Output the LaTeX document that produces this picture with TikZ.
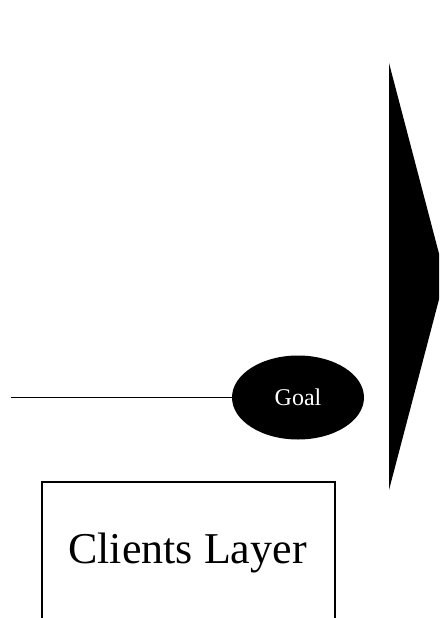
\documentclass[tikz,border=0pt]{standalone}
\usepackage{fontspec}
\setmainfont{Liberation Serif}
\usetikzlibrary{shapes.geometric}

\begin{document}
\begin{tikzpicture}[x=1pt,y=-1pt]
  \clip (0,0) rectangle (439,618);
  \useasboundingbox (0,0) rectangle (439,618);
  \node[ellipse,fill=black,text=white,inner sep=0pt,minimum width=132pt,minimum height=84pt,font=\fontsize{24}{28}\selectfont] (goal) at (298,397.5) {Goal};
  \coordinate (start) at (11,397.5);
  \node[draw,line width=1.5pt,minimum width=293pt,minimum height=220pt,inner sep=0pt,anchor=north west] (layer) at (41,481) {};
  \node[font=\fontsize{44}{50}\selectfont] (clients) at (187.5,553) {Clients Layer};
%  big arrow on the right
	\fill (389,63) -- (445,276.5) -- (389,490) -- cycle;
	\draw [line width=1.5pt] (start)--(goal);
\end{tikzpicture}
\end{document}
